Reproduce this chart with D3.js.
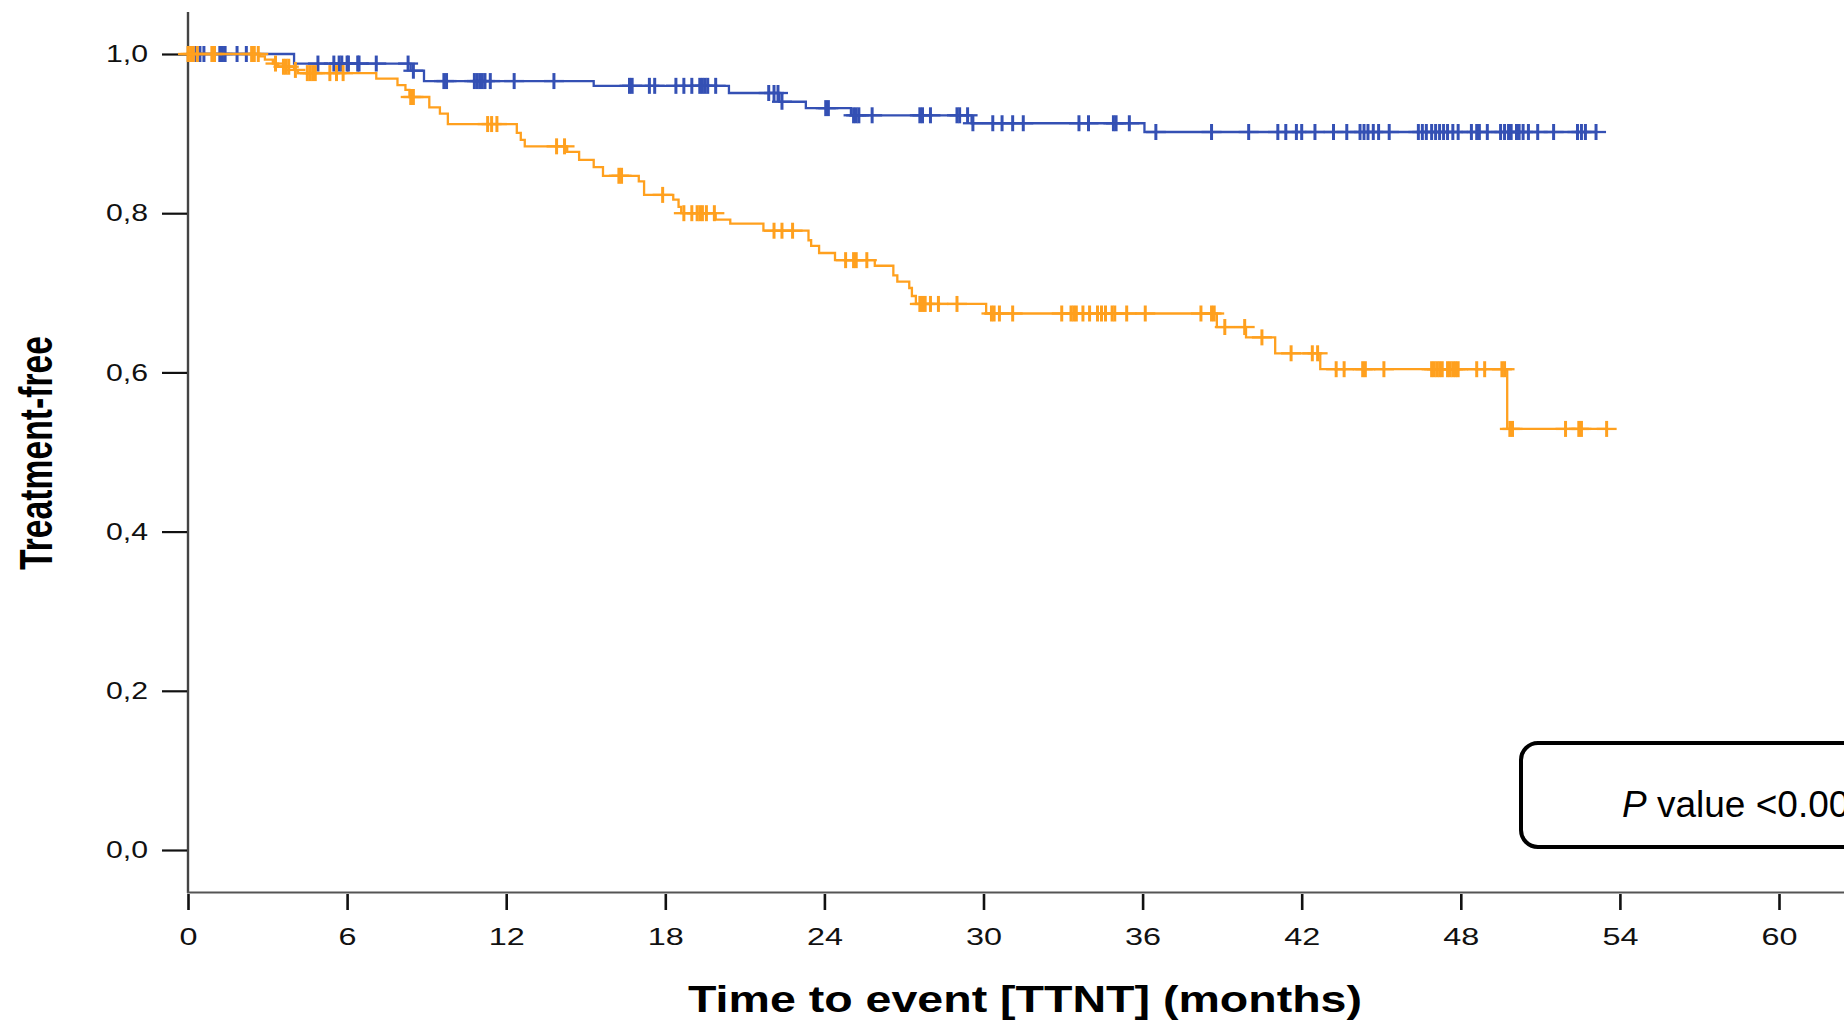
<!DOCTYPE html>
<html>
<head>
<meta charset="utf-8">
<script src="https://cdn.jsdelivr.net/npm/d3@7"></script>
<style>
    html, body { margin: 0; padding: 0; background: #fff; overflow: hidden; }
    svg { display: block; font-family: "Liberation Sans", Arial, sans-serif; }
</style>
</head>
<body>
<div id="chart"></div>
<script>
// Kaplan-Meier steps: [month, survival after the drop]
var blueSteps = [
    [0, 1.0], [4.0, 0.988], [8.4, 0.979], [8.9, 0.966], [15.3, 0.960], [20.4, 0.951],
    [22.3, 0.940], [23.3, 0.932], [25.0, 0.923], [29.55, 0.913], [36.07, 0.902]
];
var orangeSteps = [
    [0, 1.0], [2.7, 0.997], [2.9, 0.993], [3.2, 0.988], [3.4, 0.984], [4.0, 0.980], [4.15, 0.976],
    [7.1, 0.969], [7.9, 0.961], [8.2, 0.955], [8.35, 0.946], [9.1, 0.933], [9.5, 0.925], [9.8, 0.912],
    [12.4, 0.901], [12.55, 0.892], [12.7, 0.884], [14.3, 0.877], [14.75, 0.867], [15.3, 0.858],
    [15.65, 0.847], [17.0, 0.840], [17.2, 0.823], [18.3, 0.817], [18.5, 0.808], [18.6, 0.800],
    [19.9, 0.792], [20.45, 0.787], [21.7, 0.778], [23.4, 0.766], [23.5, 0.759], [23.8, 0.750],
    [24.4, 0.741], [25.9, 0.734], [26.6, 0.722], [26.75, 0.714], [27.2, 0.706], [27.3, 0.696],
    [27.45, 0.686], [30.1, 0.674], [38.8, 0.657], [39.9, 0.644], [41.0, 0.624], [42.7, 0.604],
    [49.75, 0.529]
];

// censored cases (months)
var blueCensored = [
    0.3, 0.45, 0.6, 1.2, 1.3, 1.4, 1.85, 2.2, 4.9, 5.5, 5.7, 5.8, 6.0, 6.05, 6.4, 6.45, 7.1,
    8.3, 8.5, 9.65, 9.75, 10.8, 10.9, 11.0, 11.1, 11.2, 11.4, 12.3, 13.8, 16.65, 16.75, 17.4,
    17.6, 18.4, 18.7, 19.0, 19.3, 19.4, 19.5, 19.6, 19.9, 21.9, 22.1, 22.25, 22.4, 24.05, 24.15,
    25.1, 25.2, 25.3, 25.8, 27.6, 27.7, 28.0, 29.0, 29.1, 29.4, 29.6, 30.35, 30.7, 31.1, 31.5,
    33.6, 33.96, 34.9, 35.0, 35.5, 36.5, 38.6, 40.0, 41.1, 41.4, 41.8, 42.0, 42.5, 43.2, 43.7,
    44.2, 44.35, 44.5, 44.7, 44.9, 45.3, 46.4, 46.55, 46.7, 46.9, 47.05, 47.2, 47.35, 47.5,
    47.7, 47.9, 48.4, 48.6, 48.7, 49.0, 49.5, 49.65, 49.8, 49.9, 50.1, 50.2, 50.35, 50.55,
    50.9, 51.5, 52.4, 52.55, 52.7, 53.1
];
var orangeCensored = [
    0.0, 0.1, 0.2, 0.35, 0.9, 1.0, 2.4, 2.5, 2.65, 3.3, 3.6, 3.7, 3.8, 4.05, 4.5, 4.6, 4.7,
    4.8, 5.35, 5.6, 5.85, 8.4, 8.5, 11.3, 11.45, 11.65, 13.9, 14.2, 16.25, 16.35, 17.9, 18.7,
    19.0, 19.2, 19.3, 19.4, 19.55, 19.85, 22.1, 22.4, 22.8, 24.8, 25.1, 25.2, 25.6, 27.6, 27.7,
    27.8, 28.0, 28.3, 29.0, 30.3, 30.4, 30.6, 31.1, 32.95, 33.3, 33.4, 33.5, 33.75, 34.0, 34.3,
    34.45, 34.6, 34.85, 34.95, 35.4, 36.1, 38.2, 38.6, 38.7, 39.1, 39.85, 40.5, 41.6, 42.4,
    42.6, 43.3, 43.6, 44.3, 44.4, 45.1, 46.9, 47.0, 47.1, 47.2, 47.3, 47.5, 47.6, 47.7, 47.8,
    47.9, 48.6, 48.9, 49.55, 49.65, 49.85, 49.95, 51.95, 52.45, 52.55, 53.5
];

var xTicks = [0, 6, 12, 18, 24, 30, 36, 42, 48, 54, 60];
var yTicks = [0, 0.2, 0.4, 0.6, 0.8, 1.0];

var width = 1844,
    height = 1020;

var x = d3.scaleLinear().domain([0, 60]).range([188, 1779]);
var y = d3.scaleLinear().domain([0, 1]).range([850, 54]);

var svg = d3.select("#chart").append("svg")
    .attr("width", width)
    .attr("height", height);

// axis lines
svg.append("line")
    .attr("x1", 188).attr("x2", 188)
    .attr("y1", 12).attr("y2", 893)
    .attr("stroke", "#444").attr("stroke-width", 2.4);
svg.append("line")
    .attr("x1", 187).attr("x2", width)
    .attr("y1", 892.5).attr("y2", 892.5)
    .attr("stroke", "#555").attr("stroke-width", 2);

// y axis ticks + labels ("1,0" style)
var yAxis = d3.axisLeft(y)
    .tickValues(yTicks)
    .tickSize(25)
    .tickPadding(14)
    .tickFormat(function (d) { return d3.format(".1f")(d).replace(".", ","); });
var gy = svg.append("g").attr("transform", "translate(187,0)").call(yAxis);
gy.select(".domain").remove();
gy.selectAll(".tick line").attr("stroke", "#111").attr("stroke-width", 2.2);
gy.selectAll(".tick text")
    .attr("font-size", 24)
    .attr("font-family", "Liberation Sans, Arial, sans-serif")
    .attr("fill", "#111")
    .attr("textLength", 42)
    .attr("lengthAdjust", "spacingAndGlyphs");

// x axis ticks + labels
var xAxis = d3.axisBottom(x)
    .tickValues(xTicks)
    .tickSize(16)
    .tickPadding(18)
    .tickFormat(d3.format("d"));
var gx = svg.append("g").attr("transform", "translate(0,894)").call(xAxis);
gx.select(".domain").remove();
gx.selectAll(".tick line").attr("stroke", "#111").attr("stroke-width", 2.6);
gx.selectAll(".tick text")
    .attr("font-size", 24)
    .attr("font-family", "Liberation Sans, Arial, sans-serif")
    .attr("fill", "#111")
    .attr("textLength", function (d) { return String(d).length * 18; })
    .attr("lengthAdjust", "spacingAndGlyphs");

// axis titles
svg.append("text")
    .attr("transform", "translate(52,453) rotate(-90)")
    .attr("text-anchor", "middle")
    .attr("font-size", 47)
    .attr("font-weight", "bold")
    .attr("textLength", 234)
    .attr("lengthAdjust", "spacingAndGlyphs")
    .text("Treatment-free");

svg.append("text")
    .attr("x", 1025).attr("y", 1012)
    .attr("text-anchor", "middle")
    .attr("font-size", 36)
    .attr("font-weight", "bold")
    .attr("textLength", 674)
    .attr("lengthAdjust", "spacingAndGlyphs")
    .text("Time to event [TTNT] (months)");

// survival level at time t
function levelAt(steps, t) {
    var s = steps[0][1];
    steps.forEach(function (p) {
        if (p[0] <= t) { s = p[1]; }
    });
    return s;
}

function drawCurve(steps, censored, color) {
    var last = d3.max(censored);
    var pts = steps.concat([[last, levelAt(steps, last)]]);
    var line = d3.line()
        .x(function (d) { return x(d[0]); })
        .y(function (d) { return y(d[1]); })
        .curve(d3.curveStepAfter);
    var g = svg.append("g");
    g.append("path")
        .attr("d", line(pts))
        .attr("fill", "none")
        .attr("stroke", color)
        .attr("stroke-width", 2.3);

    // censor marks drawn as "+"
    var marks = g.selectAll(".censor").data(censored).enter().append("g")
        .attr("class", "censor")
        .attr("transform", function (d) {
            return "translate(" + x(d) + "," + y(levelAt(steps, d)) + ")";
        });
    marks.append("line")
        .attr("x1", 0).attr("x2", 0).attr("y1", -8).attr("y2", 8)
        .attr("stroke", color).attr("stroke-width", 3);
    marks.append("line")
        .attr("x1", -10).attr("x2", 10).attr("y1", 0).attr("y2", 0)
        .attr("stroke", color).attr("stroke-width", 2.3);
}

drawCurve(blueSteps, blueCensored, "#3450b4");
drawCurve(orangeSteps, orangeCensored, "#ffa01e");

// p-value box (runs off the right edge like the original)
svg.append("rect")
    .attr("x", 1521).attr("y", 743)
    .attr("width", 420).attr("height", 104)
    .attr("rx", 17).attr("ry", 17)
    .attr("fill", "#fff")
    .attr("stroke", "#000")
    .attr("stroke-width", 4);

var pText = svg.append("text")
    .attr("x", 1622).attr("y", 817)
    .attr("font-size", 37)
    .attr("fill", "#000");
pText.append("tspan").attr("font-style", "italic").text("P");
pText.append("tspan").text(" value <0.001");
</script>
</body>
</html>
